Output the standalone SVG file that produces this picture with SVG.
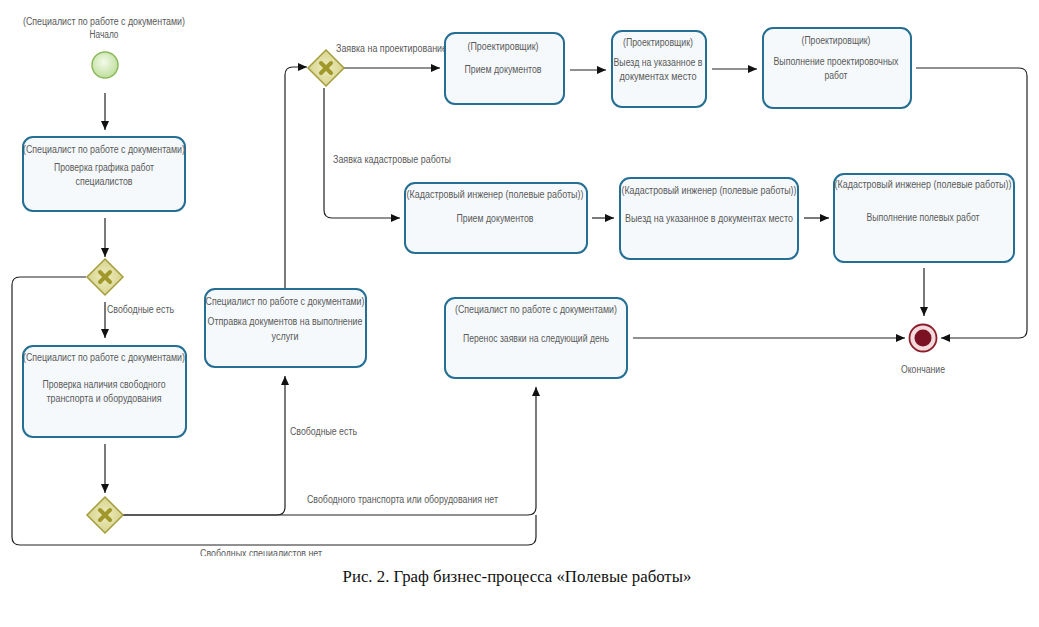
<svg xmlns="http://www.w3.org/2000/svg" width="1039" height="627" viewBox="0 0 1039 627">
<style>
.t{font-family:"Liberation Sans",Arial,sans-serif;font-size:10px;fill:#595959;text-anchor:middle}
.l{font-family:"Liberation Sans",Arial,sans-serif;font-size:10px;fill:#595959}
.box{fill:#f6f9fc;stroke:#246f93;stroke-width:2}
.c{fill:none;stroke:#222;stroke-width:1.2}
.gw{fill:url(#gwg);stroke:#a49d3c;stroke-width:1.5}
.gx{stroke:#a0982a;stroke-width:4;stroke-linecap:round}
</style>
<defs>
<marker id="a" markerUnits="userSpaceOnUse" markerWidth="9" markerHeight="8" refX="9" refY="4" orient="auto"><path d="M0,0 L9,4 L0,8 z" fill="#111"/></marker>
<radialGradient id="sg" cx="0.45" cy="0.4" r="0.6"><stop offset="0" stop-color="#f3faea"/><stop offset="1" stop-color="#bfdf9c"/></radialGradient>
<radialGradient id="gwg" cx="0.5" cy="0.5" r="0.6"><stop offset="0" stop-color="#eeecc0"/><stop offset="1" stop-color="#d3cf83"/></radialGradient>
<clipPath id="clipb"><rect x="0" y="0" width="1039" height="556"/></clipPath>
</defs>
<rect width="1039" height="627" fill="#fff"/>

<g id="connectors">
<path class="c" d="M105 93 L105 130" marker-end="url(#a)"/>
<path class="c" d="M105 218 L105 257" marker-end="url(#a)"/>
<path class="c" d="M105 302 L105 338" marker-end="url(#a)"/>
<path class="c" d="M105 444 L105 493" marker-end="url(#a)"/>
<path class="c" d="M123 515 L277 515 Q285 515 285 507 L285 376" marker-end="url(#a)"/>
<path class="c" d="M123 515 L528 515 Q536 515 536 507 L536 387" marker-end="url(#a)"/>
<path class="c" d="M86 277 L20 277 Q12 277 12 285 L12 537 Q12 545 20 545 L528 545 Q536 545 536 537 L536 515"/>
<path class="c" d="M285 289 L285 75 Q285 67 293 67 L307 67" marker-end="url(#a)"/>
<path class="c" d="M344 68 L440 68" marker-end="url(#a)"/>
<path class="c" d="M324 88 L324 210 Q324 218 332 218 L400 218" marker-end="url(#a)"/>
<path class="c" d="M570 70 L606 70" marker-end="url(#a)"/>
<path class="c" d="M712 69 L757 69" marker-end="url(#a)"/>
<path class="c" d="M916 68 L1019 68 Q1027 68 1027 76 L1027 330 Q1027 338 1019 338 L941 338" marker-end="url(#a)"/>
<path class="c" d="M592 218 L614 218" marker-end="url(#a)"/>
<path class="c" d="M804 218 L829 218" marker-end="url(#a)"/>
<path class="c" d="M924 268 L924 316" marker-end="url(#a)"/>
<path class="c" d="M633 338 L905 338" marker-end="url(#a)"/>
<text class="l" x="107" y="313" textLength="67" lengthAdjust="spacingAndGlyphs">Свободные есть</text>
<text class="l" x="290" y="435" textLength="67" lengthAdjust="spacingAndGlyphs">Свободные есть</text>
<text class="l" x="307" y="503" textLength="191" lengthAdjust="spacingAndGlyphs">Свободного транспорта или оборудования нет</text>
<text class="l" x="200" y="557" clip-path="url(#clipb)" textLength="122" lengthAdjust="spacingAndGlyphs">Свободных специалистов нет</text>
<text class="l" x="336" y="52" textLength="111" lengthAdjust="spacingAndGlyphs">Заявка на проектирование</text>
<text class="l" x="333" y="163" textLength="118" lengthAdjust="spacingAndGlyphs">Заявка кадастровые работы</text>
</g>

<g id="start">
<text class="t" x="104" y="25" textLength="162" lengthAdjust="spacingAndGlyphs">(Специалист по работе с документами)</text>
<text class="t" x="104" y="38" textLength="29" lengthAdjust="spacingAndGlyphs">Начало</text>
<circle cx="105" cy="65" r="13" fill="url(#sg)" stroke="#8cba5c" stroke-width="1.5"/>
</g>

<g id="task1">
<rect class="box" x="23" y="137" width="162" height="74" rx="10"/>
<text class="t" x="104" y="153" textLength="162" lengthAdjust="spacingAndGlyphs">(Специалист по работе с документами)</text>
<text class="t" x="104" y="171" textLength="100" lengthAdjust="spacingAndGlyphs">Проверка графика работ</text>
<text class="t" x="104" y="185" textLength="57" lengthAdjust="spacingAndGlyphs">специалистов</text>
</g>

<g id="gateway1">
<path class="gw" d="M105 259 L123 277 L105 295 L87 277 Z"/>
<path class="gx" d="M100 272 L110 282 M110 272 L100 282"/>
</g>

<g id="task2">
<rect class="box" x="23" y="346" width="163" height="91" rx="10"/>
<text class="t" x="104" y="361" textLength="162" lengthAdjust="spacingAndGlyphs">(Специалист по работе с документами)</text>
<text class="t" x="104" y="388" textLength="123" lengthAdjust="spacingAndGlyphs">Проверка наличия свободного</text>
<text class="t" x="104" y="402" textLength="115" lengthAdjust="spacingAndGlyphs">транспорта и оборудования</text>
</g>

<g id="gateway2">
<path class="gw" d="M105 497 L123 515 L105 533 L87 515 Z"/>
<path class="gx" d="M100 510 L110 520 M110 510 L100 520"/>
</g>

<g id="task-send">
<rect class="box" x="205" y="289" width="161" height="78" rx="10"/>
<text class="t" x="285" y="305" textLength="159" lengthAdjust="spacingAndGlyphs">Специалист по работе с документами)</text>
<text class="t" x="285" y="325" textLength="155" lengthAdjust="spacingAndGlyphs">Отправка документов на выполнение</text>
<text class="t" x="285" y="340" textLength="27" lengthAdjust="spacingAndGlyphs">услуги</text>
</g>

<g id="gateway3">
<path class="gw" d="M326 50 L344 68 L326 86 L308 68 Z"/>
<path class="gx" d="M321 63 L331 73 M331 63 L321 73"/>
</g>

<g id="task-p1">
<rect class="box" x="445" y="33" width="119" height="71" rx="10"/>
<text class="t" x="503" y="50" textLength="71" lengthAdjust="spacingAndGlyphs">(Проектировщик)</text>
<text class="t" x="503" y="73" textLength="77" lengthAdjust="spacingAndGlyphs">Прием документов</text>
</g>

<g id="task-p2">
<rect class="box" x="612" y="31" width="94" height="76" rx="10"/>
<text class="t" x="658" y="46" textLength="70" lengthAdjust="spacingAndGlyphs">(Проектировщик)</text>
<text class="t" x="658" y="66" textLength="89" lengthAdjust="spacingAndGlyphs">Выезд на указанное в</text>
<text class="t" x="658" y="80" textLength="77" lengthAdjust="spacingAndGlyphs">документах место</text>
</g>

<g id="task-p3">
<rect class="box" x="763" y="28" width="148" height="80" rx="10"/>
<text class="t" x="836" y="44" textLength="69" lengthAdjust="spacingAndGlyphs">(Проектировщик)</text>
<text class="t" x="836" y="65" textLength="125" lengthAdjust="spacingAndGlyphs">Выполнение проектировочных</text>
<text class="t" x="836" y="79" textLength="23" lengthAdjust="spacingAndGlyphs">работ</text>
</g>

<g id="task-k1">
<rect class="box" x="405" y="183" width="182" height="70" rx="10"/>
<text class="t" x="495" y="198" textLength="177" lengthAdjust="spacingAndGlyphs">(Кадастровый инженер (полевые работы))</text>
<text class="t" x="495" y="222" textLength="77" lengthAdjust="spacingAndGlyphs">Прием документов</text>
</g>

<g id="task-k2">
<rect class="box" x="620" y="178" width="178" height="81" rx="10"/>
<text class="t" x="709" y="194" textLength="175" lengthAdjust="spacingAndGlyphs">(Кадастровый инженер (полевые работы))</text>
<text class="t" x="709" y="222" textLength="168" lengthAdjust="spacingAndGlyphs">Выезд на указанное в документах место</text>
</g>

<g id="task-k3">
<rect class="box" x="834" y="174" width="180" height="88" rx="10"/>
<text class="t" x="923" y="188" textLength="177" lengthAdjust="spacingAndGlyphs">(Кадастровый инженер (полевые работы))</text>
<text class="t" x="923" y="221" textLength="113" lengthAdjust="spacingAndGlyphs">Выполнение полевых работ</text>
</g>

<g id="task-postpone">
<rect class="box" x="445" y="298" width="182" height="80" rx="10"/>
<text class="t" x="536" y="313" textLength="162" lengthAdjust="spacingAndGlyphs">(Специалист по работе с документами)</text>
<text class="t" x="536" y="342" textLength="146" lengthAdjust="spacingAndGlyphs">Перенос заявки на следующий день</text>
</g>

<g id="end">
<circle cx="923" cy="338" r="13.5" fill="#f3dadd" stroke="#8c1e2c" stroke-width="1.8"/>
<circle cx="923" cy="338" r="8.5" fill="#7a1224"/>
<text class="t" x="923" y="373" textLength="44" lengthAdjust="spacingAndGlyphs">Окончание</text>
</g>

<text x="517" y="582" font-family="'Liberation Serif','Times New Roman',serif" font-size="16.8" fill="#111" text-anchor="middle">Рис. 2. Граф бизнес-процесса «Полевые работы»</text>
</svg>
